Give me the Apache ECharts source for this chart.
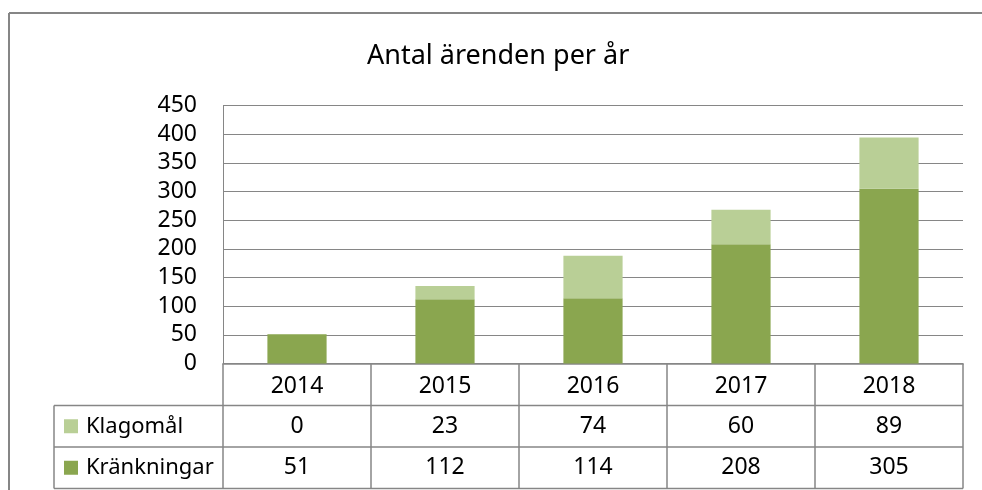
<!DOCTYPE html>
<html>
<head>
<meta charset="utf-8">
<title>Antal ärenden per år</title>
<script src="https://cdn.jsdelivr.net/npm/echarts@6/dist/echarts.min.js"></script>
<style>
    html, body { margin: 0; padding: 0; background: #fff; }
    #main { width: 982px; height: 490px; }
</style>
</head>
<body>
<div id="main"></div>
<script>
// data
var categories = ['2014', '2015', '2016', '2017', '2018'];
var klagomal = [0, 23, 74, 60, 89];
var krankningar = [51, 112, 114, 208, 305];
var seriesNames = ['Klagomål', 'Kränkningar'];

var darkGreen = '#8aa64f';
var lightGreen = '#b9cf96';
var lineGray = '#868686';
var font = 'Noto Sans';

var chart = echarts.init(document.getElementById('main'));

chart.setOption({
    animation: false,
    textStyle: {fontFamily: font},
    title: {
        text: 'Antal ärenden per år',
        left: 362,
        top: 38,
        textStyle: {fontSize: 27, fontWeight: 'normal', color: '#000', fontFamily: font}
    },
    grid: {left: 223, right: 19, top: 105.5, bottom: 126.5},
    xAxis: {
        type: 'category',
        data: categories,
        axisLine: {show: true, lineStyle: {color: lineGray, width: 1.5}},
        axisTick: {show: false},
        axisLabel: {color: '#000', fontSize: 23, margin: 11, fontFamily: font}
    },
    yAxis: {
        type: 'value',
        min: 0,
        max: 450,
        interval: 50,
        axisLine: {show: true, lineStyle: {color: lineGray, width: 1}},
        axisTick: {show: false},
        axisLabel: {color: '#000', fontSize: 23, margin: 26, fontFamily: font},
        splitLine: {lineStyle: {color: lineGray, width: 1}}
    },
    series: [
        {
            name: seriesNames[1],
            type: 'bar',
            stack: 'total',
            data: krankningar,
            barWidth: '40%',
            itemStyle: {color: darkGreen}
        },
        {
            name: seriesNames[0],
            type: 'bar',
            stack: 'total',
            data: klagomal,
            barWidth: '40%',
            itemStyle: {color: lightGreen}
        }
    ]
});

// data table below the plot, placed from the axis positions
var gridRect = chart.getModel().getComponent('grid').coordinateSystem.getRect();
var x0 = gridRect.x, x1 = gridRect.x + gridRect.width;
var yAxisLine = gridRect.y + gridRect.height;
var rowH = 41.5;
var yRow1 = yAxisLine + rowH + 0.5;   // bottom of years row
var yRow2 = yRow1 + rowH;
var yRow3 = yRow2 + rowH;
var tableLeft = 54;
var band = gridRect.width / categories.length;

var g = [];
var lineStyle = {stroke: lineGray, lineWidth: 1.5};

// outer chart border (cut off at right and bottom)
g.push({type: 'line', shape: {x1: 9, y1: 13, x2: 982, y2: 13}, style: {stroke: lineGray, lineWidth: 2}, silent: true});
g.push({type: 'line', shape: {x1: 9, y1: 13, x2: 9, y2: 490}, style: {stroke: lineGray, lineWidth: 2}, silent: true});

[yRow1, yRow2, yRow3].forEach(function (y) {
    g.push({type: 'line', shape: {x1: tableLeft, y1: y, x2: x1, y2: y}, style: lineStyle});
});
g.push({type: 'line', shape: {x1: tableLeft, y1: yRow1, x2: tableLeft, y2: yRow3}, style: lineStyle});
for (var i = 0; i <= categories.length; i++) {
    var bx = x0 + band * i;
    g.push({type: 'line', shape: {x1: bx, y1: yAxisLine, x2: bx, y2: yRow3}, style: lineStyle});
}

var rows = [
    {name: seriesNames[0], color: lightGreen, values: klagomal, top: yRow1},
    {name: seriesNames[1], color: darkGreen, values: krankningar, top: yRow2}
];
rows.forEach(function (r) {
    var cy = r.top + rowH / 2;
    g.push({type: 'rect', shape: {x: 64, y: cy - 7, width: 14, height: 14}, style: {fill: r.color}});
    g.push({type: 'text', x: 86, y: cy, style: {text: r.name, font: '22px "Noto Sans"', fill: '#000', verticalAlign: 'middle', align: 'left'}});
    r.values.forEach(function (v, k) {
        var cx = chart.convertToPixel({xAxisIndex: 0}, categories[k]);
        g.push({type: 'text', x: cx, y: cy, style: {text: String(v), font: '23px "Noto Sans"', fill: '#000', verticalAlign: 'middle', align: 'center'}});
    });
});

chart.setOption({graphic: {elements: g}});
</script>
</body>
</html>
